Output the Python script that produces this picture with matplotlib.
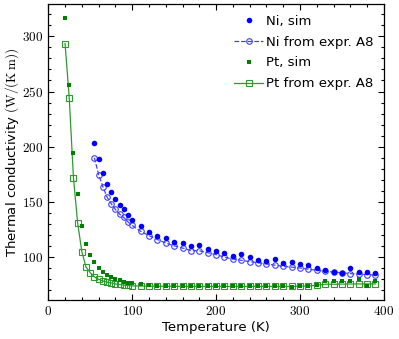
import matplotlib
matplotlib.use("Agg")
import matplotlib.pyplot as plt
from matplotlib.ticker import MultipleLocator, FuncFormatter

plt.rcParams['mathtext.fontset'] = 'cm'
plt.rcParams['font.family'] = ['DejaVu Sans']

# Ni data
ni_T = [55, 60, 65, 70, 75, 80, 85, 90, 95, 100,
        110, 120, 130, 140, 150, 160, 170, 180, 190, 200,
        210, 220, 230, 240, 250, 260, 270, 280, 290, 300,
        310, 320, 330, 340, 350, 360, 370, 380, 390]
ni_sim = [203.5, 188.7, 176.5, 166.5, 158.7, 152.8, 147.7, 143.5, 138.5, 134.0,
          128.3, 123.2, 119.2, 117.6, 114.0, 113.0, 109.7, 110.8, 107.0, 106.0,
          104.0, 101.1, 102.7, 100.3, 97.4, 96.3, 98.6, 95.0, 95.7, 93.6,
          93.2, 89.9, 88.1, 86.7, 86.0, 89.8, 86.5, 86.5, 85.8]
ni_expr = [190.0, 174.8, 164.0, 154.5, 148.5, 143.2, 139.0, 136.0, 132.0, 128.8,
           123.5, 119.5, 116.0, 112.8, 110.3, 108.3, 106.0, 105.8, 104.0, 102.3,
           100.0, 98.3, 97.2, 96.0, 95.0, 93.8, 92.8, 91.7, 91.0, 90.2,
           89.1, 88.1, 87.2, 86.6, 85.8, 85.1, 84.6, 84.3, 83.7]

# Pt data
pt_T = [20, 25, 30, 35, 40, 45, 50, 55, 60, 65, 70, 75, 80, 85, 90, 95, 100,
        110, 120, 130, 140, 150, 160, 170, 180, 190, 200,
        210, 220, 230, 240, 250, 260, 270, 280, 290, 300,
        310, 320, 330, 340, 350, 360, 370, 380, 390]
pt_sim = [317.0, 255.7, 194.5, 157.0, 127.8, 111.5, 102.4, 95.2, 89.8, 86.6,
          84.3, 82.2, 80.7, 79.2, 77.7, 77.0, 76.2,
          75.4, 74.8, 74.3, 74.0, 74.0, 74.0, 73.8, 73.8, 73.8, 73.8,
          73.8, 73.8, 73.8, 73.8, 73.8, 73.8, 73.6, 73.6, 73.4, 73.6,
          74.0, 74.6, 78.8, 78.8, 78.8, 78.8, 80.0, 73.5, 78.5]
pt_expr = [293.4, 244.0, 172.0, 131.0, 105.0, 91.0, 86.0, 82.2, 80.0, 78.5,
           77.4, 76.7, 75.8, 75.3, 74.7, 74.4, 74.0,
           73.9, 73.8, 73.7, 73.6, 73.6, 73.5, 73.5, 73.5, 73.5, 73.5,
           73.5, 73.5, 73.5, 73.5, 73.5, 73.5, 73.5, 73.5, 73.5, 73.7,
           74.0, 74.6, 75.5, 75.5, 75.6, 75.7, 75.8, 75.8, 75.8]

fig = plt.figure(figsize=(3.99, 3.39), dpi=100)
ax = fig.add_axes([0.121, 0.115, 0.841, 0.873])

ax.plot(ni_T, ni_sim, 'o', color='#0000ff', ms=4.0, mew=0, label='Ni, sim', zorder=3)
ax.plot(ni_T, ni_expr, '--o', color='#4040ff', ms=4.0, mfc='none', mew=0.8, lw=0.9,
        label='Ni from expr. A8', zorder=2)
ax.plot(pt_T, pt_sim, 's', color='#008000', ms=3.5, mew=0, label='Pt, sim', zorder=3)
ax.plot(pt_T, pt_expr, '-s', color='#2e9a2e', ms=4.4, mfc='none', mew=0.8, lw=0.9,
        label='Pt from expr. A8', zorder=2)

ax.set_xlim(0, 400)
ax.margins(y=0.05)

ax.xaxis.set_major_locator(MultipleLocator(100))
ax.xaxis.set_minor_locator(MultipleLocator(20))
ax.yaxis.set_major_locator(MultipleLocator(50))
ax.yaxis.set_minor_locator(MultipleLocator(10))
fmt = FuncFormatter(lambda v, p: f'${v:g}$')
ax.xaxis.set_major_formatter(fmt)
ax.yaxis.set_major_formatter(fmt)
ax.tick_params(which='both', direction='in', top=True, right=True, labelsize=9.5, width=0.8)
ax.tick_params(which='major', length=4.5)
ax.tick_params(which='minor', length=2.3)
for s in ax.spines.values():
    s.set_linewidth(0.9)

ax.set_xlabel('Temperature (K)', fontsize=9.5, labelpad=2)
ax.set_ylabel(r'Thermal conductivity $(\mathrm{W}/(\mathrm{K\,m}))$', fontsize=9.5, labelpad=1)

ax.legend(loc='upper right', frameon=False, fontsize=9.5, handlelength=2.2,
          handletextpad=0.2, borderaxespad=0.4, labelspacing=0.6)

fig.savefig('out.png', dpi=100)
